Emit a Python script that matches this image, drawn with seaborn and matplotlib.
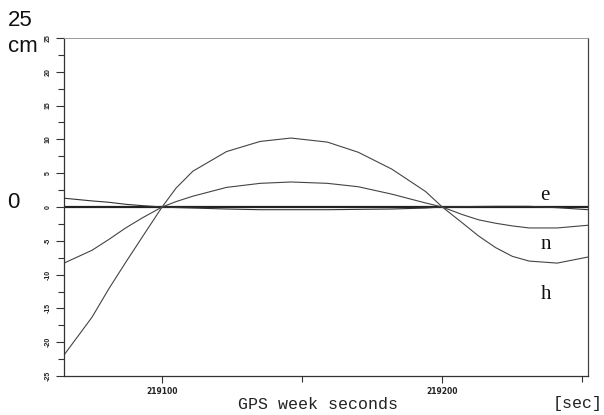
import matplotlib
matplotlib.use("Agg")
import matplotlib.pyplot as plt
import seaborn as sns
import pandas as pd
from matplotlib.ticker import MultipleLocator, FixedLocator

# GPS week seconds
times = [219065, 219075, 219081, 219087, 219093, 219100, 219105, 219111, 219123, 219135,
         219146, 219159, 219170, 219182, 219194, 219200, 219207, 219213, 219219, 219225,
         219231, 219241, 219252]
# cm
h_vals = [-21.9, -16.3, -12.1, -8.2, -4.4, 0.0, 2.8, 5.3, 8.2, 9.7,
          10.2, 9.6, 8.1, 5.6, 2.3, 0.0, -2.3, -4.3, -6.0, -7.3,
          -8.0, -8.3, -7.4]
n_vals = [-8.3, -6.4, -4.8, -3.1, -1.6, 0.0, 0.8, 1.6, 2.9, 3.5,
          3.7, 3.5, 3.0, 1.9, 0.6, 0.0, -1.1, -1.9, -2.4, -2.8,
          -3.1, -3.1, -2.7]
e_vals = [1.3, 0.9, 0.7, 0.4, 0.2, 0.0, -0.08, -0.15, -0.3, -0.4,
          -0.4, -0.4, -0.35, -0.3, -0.15, 0.0, 0.05, 0.08, 0.1, 0.1,
          0.1, -0.1, -0.4]

components = ["e", "n", "h"]
x_major = [219100, 219200]
x_major_labels = ["219100", "219200"]
x_minor = [219150, 219250]
y_ticks = [25, 20, 15, 10, 5, 0, -5, -10, -15, -20, -25]
y_tick_labels = ["25", "20", "15", "10", "5", "0", "-5", "-10", "-15", "-20", "-25"]

df = pd.concat([
    pd.DataFrame({"t": times, "cm": e_vals, "comp": "e"}),
    pd.DataFrame({"t": times, "cm": n_vals, "comp": "n"}),
    pd.DataFrame({"t": times, "cm": h_vals, "comp": "h"}),
])

sns.set_theme(style="white")
plt.rcParams["font.family"] = ["Liberation Sans", "DejaVu Sans"]

fig = plt.figure(figsize=(6.04, 4.15), dpi=100)
ax = fig.add_axes([64 / 604, 39 / 415, 524 / 604, 338 / 415])

ax.axhline(0, color="#222222", lw=1.6, zorder=1)
sns.lineplot(data=df, x="t", y="cm", hue="comp", hue_order=components,
             palette={"e": "#333333", "n": "#444444", "h": "#444444"},
             lw=0.8, legend=False, ax=ax, sort=False, zorder=2)

ax.set_xlim(219065, 219252)
ax.set_ylim(-25, 25)

ax.set_xticks(x_major)
ax.set_xticklabels(x_major_labels, fontsize=5.5, fontweight="bold",
                   family=["DejaVu Sans"], color="#222222")
ax.xaxis.set_minor_locator(FixedLocator(x_minor))
ax.set_yticks(y_ticks)
ax.set_yticklabels(y_tick_labels, fontsize=5, fontweight="bold", rotation=90,
                   va="center", color="#222222")
ax.yaxis.set_minor_locator(MultipleLocator(2.5))

ax.tick_params(axis="both", which="both", direction="out", color="#333333",
               width=0.8, bottom=True, left=True, top=False, right=False)
ax.tick_params(axis="x", which="major", length=5, pad=3)
ax.tick_params(axis="x", which="minor", length=4)
ax.tick_params(axis="y", which="major", length=6, pad=3)
ax.tick_params(axis="y", which="minor", length=4)

for side in ["left", "bottom"]:
    ax.spines[side].set_color("#333333")
    ax.spines[side].set_linewidth(0.9)
ax.spines["right"].set_color("#444444")
ax.spines["right"].set_linewidth(0.9)
ax.spines["top"].set_color("#999999")
ax.spines["top"].set_linewidth(0.7)
ax.spines["top"].set_linestyle((0, (2, 1)))

ax.set_xlabel("")
ax.set_ylabel("")
ax.grid(False)

# component labels
serif = ["Liberation Serif", "DejaVu Serif"]
fig.text(545 / 604, 1 - 195 / 415, "e", fontsize=15, family=serif,
         ha="center", va="center", color="#111111")
fig.text(546 / 604, 1 - 244 / 415, "n", fontsize=15, family=serif,
         ha="center", va="center", color="#111111")
fig.text(546 / 604, 1 - 294 / 415, "h", fontsize=15, family=serif,
         ha="center", va="center", color="#111111")

# unit labels
fig.text(8 / 604, 1 - 21 / 415, "25", fontsize=16, ha="left", va="center",
         color="#111111")
fig.text(8 / 604, 1 - 46 / 415, "cm", fontsize=16, ha="left", va="center",
         color="#111111")
fig.text(7 / 604, 1 - 202 / 415, "0", fontsize=16, ha="left", va="center",
         color="#111111")

mono = ["Liberation Mono", "DejaVu Sans Mono"]
fig.text(318 / 604, 1 - 404 / 415, "GPS week seconds", fontsize=12, family=mono,
         ha="center", va="center", color="#222222")
fig.text(578 / 604, 1 - 403 / 415, "[sec]", fontsize=12, family=mono,
         ha="center", va="center", color="#222222")

fig.savefig("out.png", dpi=100, facecolor="white")
